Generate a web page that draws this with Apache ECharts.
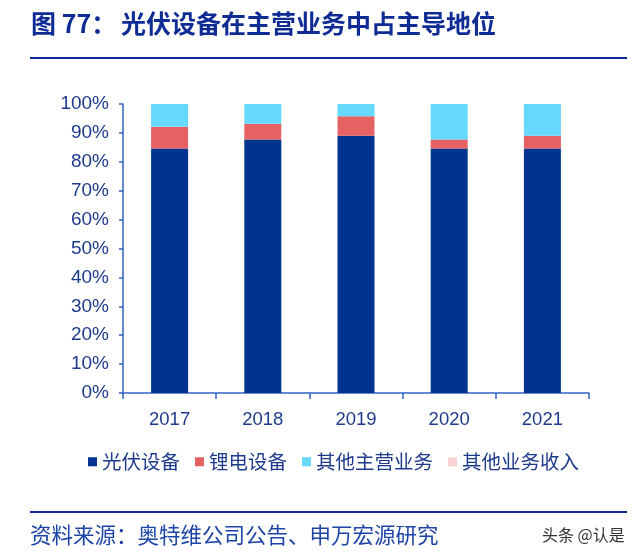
<!DOCTYPE html>
<html>
<head>
<meta charset="utf-8">
<script src="https://cdn.jsdelivr.net/npm/echarts@6/dist/echarts.min.js"></script>
<style>
html,body{margin:0;padding:0;background:#fff;}
#main{width:640px;height:558px;}
</style>
</head>
<body>
<div id="main"></div>
<script>
var categories = ['2017', '2018', '2019', '2020', '2021'];
var seriesNames = ['光伏设备', '锂电设备', '其他主营业务', '其他业务收入'];
var pvEquip = [84.6, 87.7, 89.0, 84.6, 84.6];
var liEquip = [7.5, 5.5, 6.8, 3.1, 4.4];
var otherMain = [7.9, 6.8, 4.2, 12.3, 11.0];
var otherBiz = [0, 0, 0, 0, 0];
var yTicks = [0, 10, 20, 30, 40, 50, 60, 70, 80, 90, 100];

var titlePrefix = '图 77：';
var titleText = '光伏设备在主营业务中占主导地位';
var sourceText = '资料来源：奥特维公司公告、申万宏源研究';
var watermark = '头条 @认是';

var colors = ['#00338F', '#E66262', '#66D9FF', '#F9D3D3'];
var textColor = '#1E3A8C';
var axisColor = '#3562C0';
var font = '"Noto Sans CJK SC", "Liberation Sans", sans-serif';

var chart = echarts.init(document.getElementById('main'), null, {renderer: 'canvas'});
var values = [pvEquip, liEquip, otherMain, otherBiz];

chart.setOption({
  animation: false,
  color: colors,
  grid: {left: 123, right: 51, top: 104, bottom: 165},
  legend: {
    data: seriesNames,
    left: 83,
    top: 447,
    itemWidth: 9,
    itemHeight: 9,
    itemGap: 15,
    icon: 'rect',
    textStyle: {fontSize: 19.5, color: textColor, fontFamily: font},
    selectedMode: false
  },
  xAxis: {
    type: 'category',
    data: categories,
    boundaryGap: true,
    axisLine: {lineStyle: {color: axisColor, width: 1.5}},
    axisTick: {show: true, length: 6, lineStyle: {color: axisColor, width: 1.5}},
    axisLabel: {fontSize: 18.5, color: textColor, fontFamily: '"Liberation Sans", Arial, sans-serif', margin: 17}
  },
  yAxis: {
    type: 'value',
    min: yTicks[0],
    max: yTicks[yTicks.length - 1],
    interval: 10,
    axisLine: {show: true, lineStyle: {color: axisColor, width: 1.5}},
    axisTick: {show: true, length: 4, lineStyle: {color: axisColor, width: 1.5}},
    splitLine: {show: false},
    axisLabel: {fontSize: 19, color: textColor, fontFamily: '"Liberation Sans", Arial, sans-serif', margin: 14, formatter: '{value}%'}
  },
  series: seriesNames.map(function (n, i) {
    return {
      name: n,
      type: 'bar',
      stack: 'total',
      barWidth: 37,
      data: values[i]
    };
  }),
  graphic: [
    {type: 'text', left: 31, top: 11, style: {text: titlePrefix, font: 'bold 25px ' + font, fill: '#0E2C94'}},
    {type: 'text', left: 121, top: 11, style: {text: titleText, font: 'bold 25px ' + font, fill: '#0E2C94'}},
    {type: 'rect', shape: {x: 30, y: 57, width: 597, height: 2}, style: {fill: '#0A2A9C'}},
    {type: 'rect', shape: {x: 30, y: 511, width: 597, height: 2}, style: {fill: '#0A2A9C'}},
    {type: 'text', left: 30, top: 524, style: {text: sourceText, font: '21.5px ' + font, fill: '#1D45A8'}},
    {type: 'text', left: 542, top: 527, style: {text: watermark, font: '16px ' + font, fill: '#333333'}}
  ]
});
</script>
</body>
</html>
